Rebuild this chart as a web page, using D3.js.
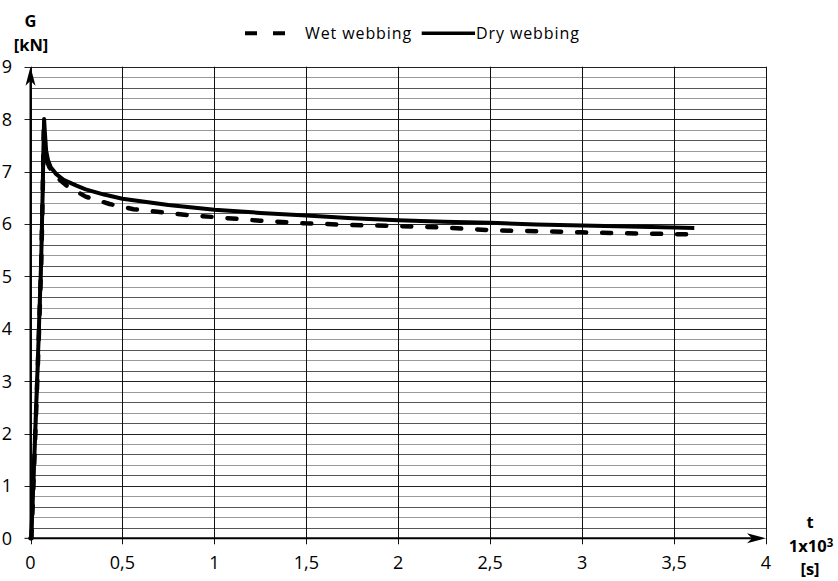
<!DOCTYPE html>
<html><head><meta charset="utf-8">
<script src="https://cdn.jsdelivr.net/npm/d3@7"></script>
<style>body{margin:0;background:#fff}svg{display:block}text{font-family:"Open Sans",sans-serif;fill:#000}</style>
</head><body><svg id="c" width="838" height="581"></svg>
<script>
const dryT = [0,0.004,0.02,0.04,0.058,0.066,0.072,0.074,0.078,0.085,0.095,0.11,0.14,0.18,0.25,0.3,0.4,0.5,0.75,1.0,1.25,1.5,1.75,2.0,2.25,2.5,2.75,3.0,3.25,3.5,3.61];
const dryV = [0,0,1.5,3.4,5.3,6.6,7.7,8.0,7.75,7.4,7.22,7.08,6.95,6.84,6.73,6.66,6.56,6.48,6.36,6.27,6.21,6.16,6.11,6.07,6.04,6.02,5.99,5.97,5.95,5.93,5.92];
const wetT = [0,0.005,0.02,0.04,0.058,0.066,0.071,0.073,0.077,0.085,0.095,0.11,0.14,0.2,0.3,0.43,0.56,0.72,0.85,1.0,1.25,1.5,1.75,2.0,2.25,2.5,2.75,3.0,3.25,3.6];
const wetV = [0,0,1.4,3.3,5.2,6.5,7.6,7.9,7.6,7.3,7.15,7.02,6.9,6.72,6.52,6.38,6.28,6.22,6.17,6.13,6.06,6.01,5.98,5.96,5.93,5.88,5.86,5.84,5.82,5.80];
const xTicks = [0,0.5,1,1.5,2,2.5,3,3.5,4];
const xTickLabels = ["0","0,5","1","1,5","2","2,5","3","3,5","4"];
const yTicks = [0,1,2,3,4,5,6,7,8,9];
const seriesNames = ["Wet webbing","Dry webbing"];

const svg = d3.select("#c");
const x = d3.scaleLinear().domain([0,4]).range([30.5,766]);
const y = d3.scaleLinear().domain([0,9]).range([538.3,66.7]);

const minor = d3.range(0,9.001,0.2).filter(v=>Math.abs(v-Math.round(v))>1e-6);
svg.append("g").selectAll("line").data(minor).join("line")
  .attr("x1",x(0)).attr("x2",x(4))
  .attr("y1",d=>Math.round(y(d))+0.5).attr("y2",d=>Math.round(y(d))+0.5)
  .attr("stroke",(d,i)=>i%2? "#9a9a9a":"#555").attr("stroke-width",1);
svg.append("g").selectAll("line").data(yTicks.slice(1)).join("line")
  .attr("x1",x(0)-6).attr("x2",x(4))
  .attr("y1",d=>Math.round(y(d))+0.5).attr("y2",d=>Math.round(y(d))+0.5)
  .attr("stroke","#222").attr("stroke-width",1);
svg.append("g").selectAll("line").data(xTicks).join("line")
  .attr("x1",d=>Math.round(x(d))+0.5).attr("x2",d=>Math.round(x(d))+0.5)
  .attr("y1",y(9)).attr("y2",y(0)+6)
  .attr("stroke","#111").attr("stroke-width",1);
svg.append("line").attr("x1",x(0)-6).attr("x2",x(0)).attr("y1",y(0)).attr("y2",y(0)).attr("stroke","#000");

svg.append("line").attr("x1",x(0)).attr("x2",x(0)).attr("y1",y(0)+1).attr("y2",y(9)+6).attr("stroke","#000").attr("stroke-width",2);
svg.append("line").attr("x1",x(0)).attr("x2",x(4)-6).attr("y1",y(0)).attr("y2",y(0)).attr("stroke","#000").attr("stroke-width",2);
const ax=x(0), ay=y(9);
svg.append("path").attr("d",`M${ax},${ay} L${ax+5},${ay+19} L${ax},${ay+14} L${ax-5},${ay+19} Z`).attr("fill","#000");
const bx=x(4), by=y(0);
svg.append("path").attr("d",`M${bx},${by} L${bx-19},${by-5} L${bx-14},${by} L${bx-19},${by+5} Z`).attr("fill","#000");

svg.append("g").selectAll("text").data(yTicks).join("text")
  .attr("x",7).attr("y",d=>y(d)).attr("dy","0.36em").attr("text-anchor","middle")
  .attr("font-size",18).text(d=>d);
svg.append("g").selectAll("text").data(xTicks).join("text")
  .attr("x",d=>x(d)).attr("y",563).attr("dy","0.36em").attr("text-anchor","middle")
  .attr("font-size",18).text((d,i)=>xTickLabels[i]);

const tb = (xx,yy,s)=>svg.append("text").attr("x",xx).attr("y",yy).attr("dy","0.36em").attr("text-anchor","middle").attr("font-size",16.5).attr("font-weight","bold").text(s);
tb(30.5,21,"G");
tb(31,45,"[kN]");
tb(810,522,"t");
const t2 = tb(811,546,"");
t2.append("tspan").text("1x10");
t2.append("tspan").attr("dy","-0.45em").attr("font-size",11.5).text("3");
tb(810,569.5,"[s]");

const lineRaw = d3.line().x(d=>x(d[0])).y(d=>y(d[1]));
const dry = dryT.map((t,i)=>[t,dryV[i]]);
const wet = wetT.map((t,i)=>[t,wetV[i]]);
svg.append("path").datum(wet).attr("d",lineRaw).attr("fill","none").attr("stroke","#000")
  .attr("stroke-width",4.5).attr("stroke-dasharray","9,16").attr("stroke-linecap","round").attr("stroke-linejoin","round");
svg.append("path").datum(dry).attr("d",lineRaw).attr("fill","none").attr("stroke","#000")
  .attr("stroke-width",4).attr("stroke-linejoin","round");
svg.append("path").datum(wet.slice(0,12)).attr("d",lineRaw).attr("fill","none").attr("stroke","#000")
  .attr("stroke-width",3).attr("stroke-linejoin","round");

const lg = svg.append("g");
lg.append("line").attr("x1",245).attr("x2",287).attr("y1",33.3).attr("y2",33.3).attr("stroke","#000").attr("stroke-width",4).attr("stroke-dasharray","12,16");
lg.append("text").attr("x",305).attr("y",33.3).attr("dy","0.36em").attr("font-size",16).attr("letter-spacing",0.9).text(seriesNames[0]);
lg.append("line").attr("x1",421.7).attr("x2",475).attr("y1",33.3).attr("y2",33.3).attr("stroke","#000").attr("stroke-width",3.5);
lg.append("text").attr("x",476).attr("y",33.3).attr("dy","0.36em").attr("font-size",16).attr("letter-spacing",0.9).text(seriesNames[1]);
</script></body></html>
